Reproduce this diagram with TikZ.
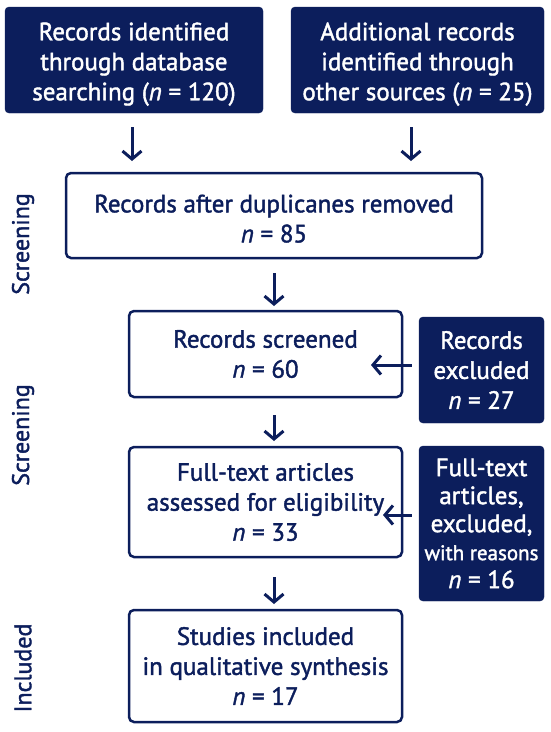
\documentclass[tikz,border=0pt]{standalone}
\usepackage{fontspec}
\setmainfont{PT Sans}[RawFeature={embolden=1.6}]
\usetikzlibrary{arrows.meta,calc}
\definecolor{navy}{RGB}{12,30,92}
\newcommand{\topstrut}{\rule{0pt}{26pt}}
\tikzset{
  dark/.style={fill=navy,draw=navy,rounded corners=4pt,text=white,align=center,inner sep=0pt,font=\fontsize{25}{30}\selectfont},
  light/.style={draw=navy,line width=2.5pt,rounded corners=5pt,fill=white,text=navy,align=center,inner sep=0pt,font=\fontsize{25}{30}\selectfont},
  flow/.style={draw=navy,line width=3pt,-{Straight Barb[length=8pt,width=19pt,line width=3pt]}},
  side/.style={text=navy,rotate=90,font=\fontsize{24}{28}\selectfont}
}
\begin{document}
\begin{tikzpicture}[x=1pt,y=-1pt]
\useasboundingbox (0,0) rectangle (550,732);
\node[dark,minimum width=258pt,minimum height=106pt] (b1) at (134,60) {\topstrut Records identified\\through database\\searching (\textit{n} = 120)};
\node[dark,minimum width=253pt,minimum height=106pt] (b2) at (417.5,60) {\topstrut Additional records\\identified through\\other sources (\textit{n} = 25)};
\node[light,minimum width=416pt,minimum height=85pt] (b3) at (274,215.5) {\rule{0pt}{24pt}Records after duplicanes removed\\\textit{n} = 85};
\node[light,minimum width=273pt,minimum height=86pt] (b4) at (265.5,354) {Records screened\\\textit{n} = 60};
\node[dark,minimum width=125pt,minimum height=106pt] (b5) at (481.5,370) {Records\\excluded\\\textit{n} = 27};
\node[light,minimum width=273pt,minimum height=110pt] (b6) at (265.5,502) {Full-text articles\\assessed for eligibility\\\textit{n} = 33};
\node[dark,minimum width=125pt,minimum height=155pt,font=\fontsize{25}{28}\selectfont] (b7) at (481.5,523.5) {Full-text\\articles,\\excluded,\\{\fontsize{21}{28}\selectfont with reasons}\\\textit{n} = 16};
\node[light,minimum width=273pt,minimum height=112pt] (b8) at (265.5,666) {Studies included\\in qualitative synthesis\\\textit{n} = 17};
\node[side] (s1) at (23,244) {Screening};
\node[side] (s2) at (23,435) {Screening};
\node[side] (s3) at (23,668) {Included};
\coordinate (a1s) at (132,127); \coordinate (a1e) at (132,161);
\coordinate (a2s) at (411,127); \coordinate (a2e) at (411,161);
\coordinate (a3s) at (274,273); \coordinate (a3e) at (274,306);
\coordinate (a4s) at (274,415); \coordinate (a4e) at (274,441);
\coordinate (a5s) at (274,577); \coordinate (a5e) at (274,604);
\draw[flow] (a1s) -- (a1e);
\draw[flow] (a2s) -- (a2e);
\draw[flow] (a3s) -- (a3e);
\draw[flow] (a4s) -- (a4e);
\draw[flow] (a5s) -- (a5e);
\draw[flow] (b5.west |- 0,365) ++(-7,0) coordinate (e1) -- (371,365);
\draw[flow] (b7.west |- 0,515) ++(-7,0) coordinate (e2) -- (383,515);
\end{tikzpicture}
\end{document}
